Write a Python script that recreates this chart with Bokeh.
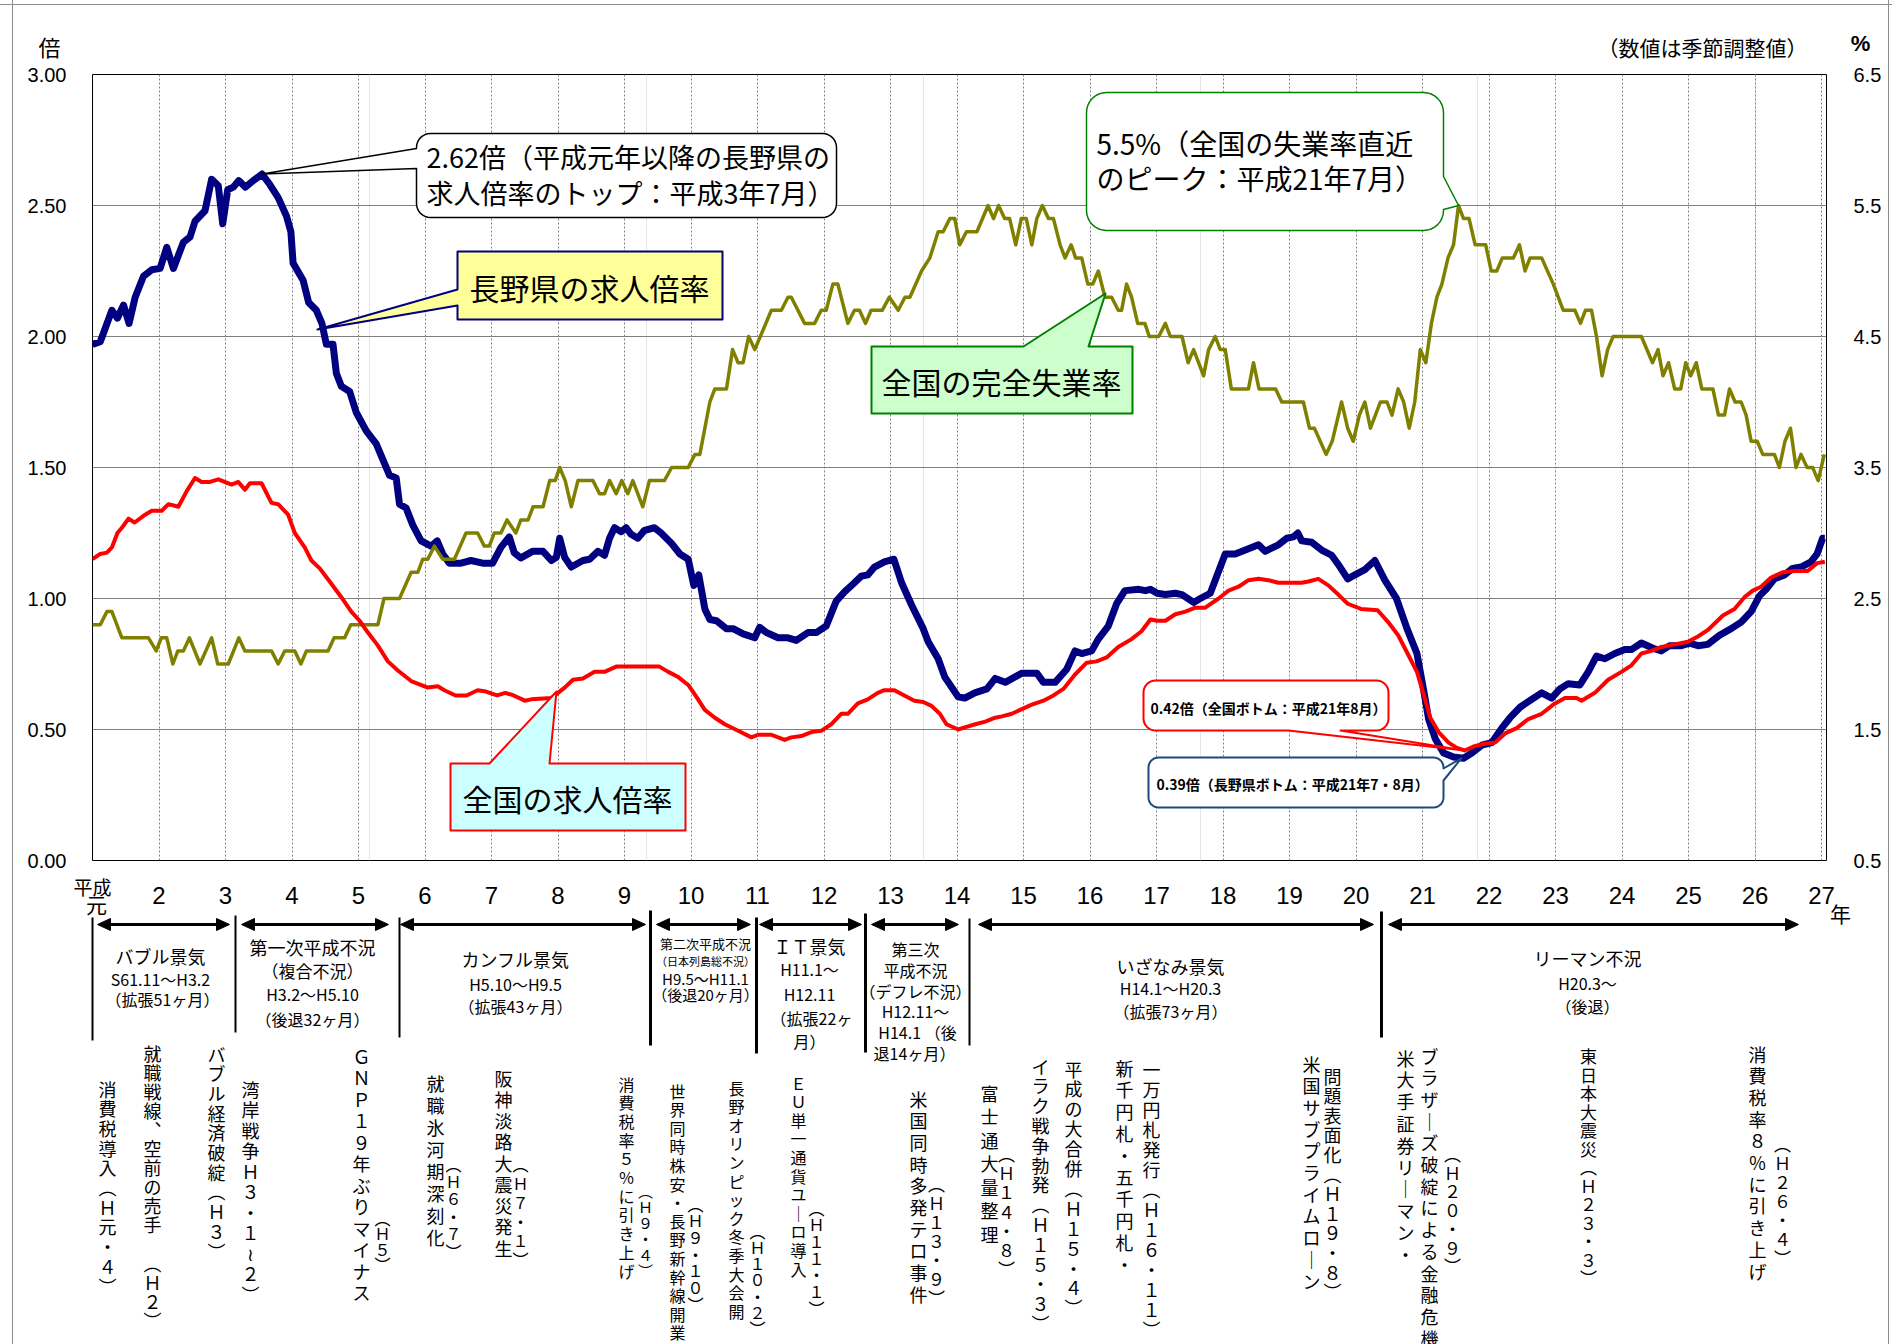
import math
from bokeh.plotting import figure
from bokeh.layouts import column
from bokeh.models import (Range1d, LinearAxis, FixedTicker, NumeralTickFormatter,
                          Grid, ColumnDataSource)
from bokeh.core.properties import value
from bokeh.embed import file_html
from bokeh.resources import INLINE

# ======================= DATA =======================
# month index: 0 = 平成元年1月
nagano_month = [
    0, 1.4, 3.5, 4.5, 5.6, 6.6, 7.7, 9.2, 10.7, 12.2,
    13.4, 14.6, 16.4, 17.6, 18.5, 20.3, 21.5, 22.7, 23.5, 24.4,
    25.4, 26.4, 27.6, 29.0, 30.6, 32.0, 33.5, 35.0, 35.8, 36.2,
    38.0, 39.0, 40.4, 41.4, 42.2, 43.4, 44.0, 44.9, 46.4, 47.6,
    49.4, 51.2, 52.4, 53.6, 54.8, 55.4, 56.6, 57.8, 59.3, 61.1,
    62.2, 63.2, 64.4, 66.5, 68.3, 70.4, 72.2, 73.7, 75.2, 76.1,
    77.3, 79.4, 81.3, 82.8, 83.7, 84.3, 85.2, 86.4, 88.5, 89.7,
    91.2, 92.4, 93.3, 94.2, 95.4, 96.3, 97.2, 98.4, 99.6, 101.4,
    102.6, 104.5, 106.0, 107.5, 108.5, 109.4, 110.5, 111.4, 112.6, 114.4,
    115.6, 117.4, 119.5, 120.4, 121.6, 123.7, 125.5, 127.0, 129.1, 130.6,
    132.4, 134.2, 135.7, 137.5, 138.7, 139.9, 141.1, 142.9, 144.6, 146.0,
    147.8, 149.9, 150.8, 152.6, 153.8, 156.2, 157.4, 159.2, 161.4, 162.9,
    164.7, 167.7, 170.4, 171.6, 173.7, 175.8, 177.3, 178.5, 180.3, 181.5,
    183.3, 184.8, 186.3, 188.8, 190.0, 190.9, 192.1, 193.6, 195.4, 196.6,
    198.7, 199.9, 201.7, 204.4, 206.2, 208.6, 210.4, 211.6, 214.0, 215.5,
    216.7, 217.5, 218.2, 220.0, 221.8, 223.6, 224.8, 226.5, 227.8, 229.6,
    231.4, 233.2, 235.3, 237.2, 239.0, 240.2, 241.1, 242.3, 243.8, 245.6,
    247.4, 248.9, 250.7, 252.5, 254.3, 255.8, 257.6, 259.7, 261.5, 263.3,
    264.8, 266.3, 268.4, 269.9, 271.4, 272.9, 274.7, 276.5, 277.7, 279.5,
    281.6, 283.1, 284.6, 286.7, 288.2, 289.7, 291.5, 293.6, 295.7, 297.5,
    299.3, 300.8, 302.0, 303.5, 305.3, 306.8, 308.3, 310.1, 311.2, 312.2,
    312.6]
nagano_ratio = [
    1.97, 1.98, 2.10, 2.07, 2.12, 2.05, 2.15, 2.23, 2.255, 2.26,
    2.34, 2.26, 2.36, 2.38, 2.44, 2.48, 2.60, 2.575, 2.43, 2.56,
    2.57, 2.595, 2.57, 2.595, 2.62, 2.58, 2.53, 2.46, 2.40, 2.28,
    2.215, 2.13, 2.10, 2.05, 1.97, 1.97, 1.86, 1.81, 1.79, 1.71,
    1.64, 1.59, 1.53, 1.47, 1.46, 1.36, 1.345, 1.28, 1.22, 1.20,
    1.22, 1.17, 1.135, 1.135, 1.145, 1.135, 1.135, 1.195, 1.235, 1.175,
    1.155, 1.18, 1.18, 1.145, 1.157, 1.23, 1.157, 1.12, 1.145, 1.15,
    1.18, 1.165, 1.23, 1.27, 1.255, 1.27, 1.245, 1.23, 1.26, 1.27,
    1.25, 1.21, 1.17, 1.15, 1.05, 1.09, 0.96, 0.92, 0.915, 0.885,
    0.885, 0.865, 0.85, 0.89, 0.87, 0.85, 0.85, 0.84, 0.87, 0.87,
    0.895, 0.99, 1.025, 1.06, 1.085, 1.09, 1.12, 1.14, 1.15, 1.06,
    0.975, 0.885, 0.835, 0.77, 0.70, 0.625, 0.62, 0.64, 0.655, 0.695,
    0.68, 0.715, 0.715, 0.68, 0.68, 0.73, 0.80, 0.79, 0.80, 0.845,
    0.895, 0.98, 1.03, 1.035, 1.03, 1.035, 1.02, 1.015, 1.02, 1.015,
    0.985, 1.00, 1.02, 1.17, 1.17, 1.19, 1.205, 1.18, 1.205, 1.23,
    1.235, 1.25, 1.22, 1.215, 1.185, 1.165, 1.13, 1.075, 1.09, 1.11,
    1.145, 1.07, 1.00, 0.885, 0.79, 0.65, 0.54, 0.465, 0.41, 0.395,
    0.39, 0.41, 0.44, 0.45, 0.505, 0.545, 0.585, 0.615, 0.64, 0.62,
    0.655, 0.675, 0.67, 0.72, 0.78, 0.77, 0.79, 0.805, 0.805, 0.83,
    0.81, 0.80, 0.82, 0.82, 0.83, 0.82, 0.825, 0.86, 0.885, 0.91,
    0.95, 1.01, 1.035, 1.075, 1.09, 1.115, 1.12, 1.14, 1.17, 1.23,
    1.23]

national_month = [
    0, 1.4, 2.6, 3.5, 4.5, 5.3, 6.5, 7.6, 9.5, 10.7,
    12.5, 13.7, 15.5, 17.0, 18.5, 19.7, 21.2, 22.7, 25.1, 26.3,
    27.5, 28.4, 30.5, 32.3, 33.5, 35.3, 36.5, 38.3, 39.5, 41.0,
    42.8, 44.9, 46.7, 48.2, 49.7, 51.5, 53.3, 55.1, 57.5, 60.5,
    62.3, 63.5, 65.5, 67.5, 69.5, 71.0, 73.0, 74.5, 76.0, 78.0,
    79.2, 82.8, 84.0, 85.2, 86.7, 88.5, 90.6, 92.4, 94.5, 96.0,
    102.3, 103.9, 105.7, 107.5, 108.8, 110.5, 112.3, 114.1, 116.5, 118.9,
    120.1, 122.5, 124.9, 126.1, 127.9, 129.7, 131.5, 133.3, 135.1, 136.3,
    138.1, 139.9, 141.7, 142.9, 144.7, 146.5, 148.3, 149.9, 151.4, 152.9,
    154.1, 156.2, 157.7, 159.3, 161.1, 162.9, 164.1, 165.9, 167.4, 169.5,
    171.6, 173.4, 175.2, 177.3, 179.4, 181.2, 183.0, 185.1, 187.5, 189.3,
    190.9, 192.1, 193.6, 195.4, 197.2, 199.0, 200.8, 203.2, 205.0, 206.8,
    208.6, 210.4, 212.2, 214.0, 218.2, 219.4, 221.2, 223.0, 224.8, 226.5,
    228.9, 231.9, 233.8, 235.6, 237.3, 239.0, 240.2, 241.4, 242.9, 244.7,
    246.2, 247.6, 249.2, 251.0, 253.1, 254.9, 257.0, 259.1, 261.5, 263.6,
    265.7, 267.8, 268.7, 271.1, 273.5, 275.9, 277.7, 279.5, 281.3, 283.1,
    285.5, 287.9, 289.7, 291.5, 294.2, 296.3, 298.1, 299.6, 301.1, 302.9,
    305.0, 307.1, 309.5, 311.2, 312.6]
national_ratio = [
    1.15, 1.17, 1.175, 1.195, 1.25, 1.27, 1.305, 1.29, 1.32, 1.335,
    1.335, 1.36, 1.35, 1.41, 1.46, 1.445, 1.445, 1.455, 1.435, 1.445,
    1.415, 1.44, 1.44, 1.365, 1.36, 1.32, 1.25, 1.195, 1.145, 1.115,
    1.065, 1.005, 0.95, 0.915, 0.87, 0.82, 0.76, 0.725, 0.685, 0.66,
    0.665, 0.65, 0.63, 0.63, 0.65, 0.645, 0.63, 0.64, 0.63, 0.61,
    0.615, 0.62, 0.64, 0.66, 0.69, 0.695, 0.72, 0.72, 0.74, 0.74,
    0.74, 0.72, 0.70, 0.67, 0.63, 0.575, 0.545, 0.52, 0.495, 0.47,
    0.48, 0.48, 0.46, 0.47, 0.475, 0.49, 0.495, 0.52, 0.56, 0.56,
    0.60, 0.615, 0.64, 0.65, 0.65, 0.63, 0.61, 0.605, 0.59, 0.56,
    0.52, 0.50, 0.51, 0.52, 0.53, 0.545, 0.55, 0.56, 0.575, 0.595,
    0.61, 0.63, 0.655, 0.71, 0.755, 0.76, 0.775, 0.815, 0.845, 0.875,
    0.92, 0.915, 0.915, 0.94, 0.95, 0.965, 0.965, 1.00, 1.03, 1.045,
    1.07, 1.075, 1.07, 1.06, 1.06, 1.065, 1.075, 1.05, 1.015, 0.98,
    0.96, 0.955, 0.91, 0.86, 0.79, 0.72, 0.635, 0.545, 0.49, 0.45,
    0.43, 0.42, 0.435, 0.445, 0.45, 0.485, 0.505, 0.54, 0.56, 0.595,
    0.62, 0.62, 0.61, 0.64, 0.69, 0.72, 0.745, 0.79, 0.80, 0.815,
    0.825, 0.835, 0.855, 0.88, 0.935, 0.96, 1.005, 1.03, 1.045, 1.08,
    1.10, 1.105, 1.105, 1.135, 1.14]

unemp_month = [
    0, 1.4, 2.6, 3.5, 5.3, 10.1, 11.5, 12.4, 13.4, 14.5,
    15.4, 16.4, 17.5, 19.4, 21.5, 22.6, 24.5, 26.4, 27.5, 32.3,
    33.5, 34.7, 36.5, 37.6, 38.6, 42.5, 43.6, 45.5, 46.6, 51.5,
    52.6, 55.4, 57.5, 58.7, 59.6, 60.5, 61.7, 63.2, 65.3, 67.4,
    69.5, 70.7, 71.6, 72.5, 73.7, 74.8, 76.4, 77.3, 78.6, 79.5,
    81.3, 82.5, 83.5, 84.3, 85.3, 86.4, 87.6, 90.3, 91.5, 92.4,
    93.3, 94.5, 95.5, 96.6, 97.5, 99.3, 100.5, 103.2, 104.5, 107.5,
    108.7, 109.6, 111.4, 112.3, 114.4, 115.5, 116.5, 117.4, 118.4, 119.5,
    122.5, 124.3, 125.5, 126.1, 128.5, 130.3, 131.5, 132.4, 133.6, 134.5,
    136.3, 137.5, 138.4, 139.5, 140.5, 142.5, 143.8, 145.4, 146.6, 147.5,
    149.6, 151.1, 152.6, 153.5, 154.7, 155.6, 156.5, 157.7, 159.6, 161.6,
    162.6, 163.5, 164.6, 165.5, 166.6, 167.6, 168.5, 169.5, 170.4, 171.4,
    172.5, 173.4, 174.6, 175.5, 176.6, 177.4, 178.5, 179.6, 180.5, 181.5,
    182.7, 183.9, 185.1, 185.7, 186.6, 187.5, 188.6, 189.9, 190.7, 192.4,
    193.6, 194.5, 196.6, 197.7, 198.7, 200.5, 201.4, 202.6, 203.5, 204.4,
    205.5, 208.6, 209.5, 210.5, 213.5, 214.6, 218.5, 219.6, 220.5, 222.6,
    223.7, 225.4, 226.5, 227.5, 228.6, 229.6, 230.6, 232.4, 233.6, 234.5,
    235.6, 236.6, 237.6, 238.6, 239.6, 240.6, 241.6, 242.6, 243.5, 244.6,
    245.6, 246.5, 247.4, 248.4, 249.5, 251.4, 252.4, 253.4, 254.4, 256.4,
    257.5, 258.5, 259.4, 261.5, 263.6, 265.4, 267.5, 268.5, 269.4, 270.5,
    271.4, 272.4, 273.4, 274.4, 279.5, 281.5, 282.5, 283.4, 284.4, 285.5,
    286.6, 287.5, 288.4, 289.4, 290.4, 292.4, 293.4, 294.5, 295.4, 296.4,
    297.5, 298.4, 299.3, 300.4, 301.4, 303.5, 304.4, 305.4, 306.4, 307.4,
    308.3, 309.4, 310.4, 311.4, 312.5]
unemp_rate = [
    2.3, 2.3, 2.4, 2.4, 2.2, 2.2, 2.1, 2.2, 2.2, 2.0,
    2.1, 2.1, 2.2, 2.0, 2.2, 2.0, 2.0, 2.2, 2.1, 2.1,
    2.0, 2.1, 2.1, 2.0, 2.1, 2.1, 2.2, 2.2, 2.3, 2.3,
    2.5, 2.5, 2.7, 2.7, 2.8, 2.8, 2.9, 2.8, 2.8, 3.0,
    3.0, 2.9, 2.9, 3.0, 3.0, 3.1, 3.0, 3.1, 3.1, 3.2,
    3.2, 3.4, 3.4, 3.5, 3.4, 3.2, 3.4, 3.4, 3.3, 3.3,
    3.4, 3.3, 3.4, 3.3, 3.4, 3.2, 3.4, 3.4, 3.5, 3.5,
    3.6, 3.6, 4.0, 4.1, 4.1, 4.4, 4.3, 4.3, 4.5, 4.4,
    4.7, 4.7, 4.8, 4.8, 4.6, 4.6, 4.7, 4.7, 4.9, 4.9,
    4.6, 4.7, 4.7, 4.6, 4.7, 4.7, 4.8, 4.7, 4.8, 4.8,
    5.0, 5.1, 5.3, 5.3, 5.4, 5.4, 5.2, 5.3, 5.3, 5.5,
    5.4, 5.5, 5.4, 5.4, 5.2, 5.4, 5.4, 5.2, 5.4, 5.5,
    5.4, 5.4, 5.2, 5.1, 5.2, 5.1, 5.1, 4.9, 4.9, 5.0,
    4.8, 4.8, 4.7, 4.7, 4.9, 4.8, 4.6, 4.6, 4.5, 4.5,
    4.6, 4.5, 4.5, 4.3, 4.4, 4.2, 4.4, 4.5, 4.4, 4.4,
    4.1, 4.1, 4.3, 4.1, 4.1, 4.0, 4.0, 3.8, 3.8, 3.6,
    3.7, 4.0, 3.8, 3.7, 3.9, 4.0, 3.8, 4.0, 4.0, 3.9,
    4.1, 4.0, 3.8, 4.0, 4.4, 4.3, 4.6, 4.8, 4.9, 5.1,
    5.2, 5.5, 5.4, 5.4, 5.2, 5.2, 5.0, 5.0, 5.1, 5.1,
    5.2, 5.0, 5.1, 5.1, 4.9, 4.7, 4.7, 4.6, 4.7, 4.7,
    4.5, 4.2, 4.4, 4.5, 4.5, 4.3, 4.4, 4.2, 4.3, 4.1,
    4.1, 4.3, 4.2, 4.3, 4.1, 4.1, 3.9, 3.9, 4.1, 4.0,
    4.0, 3.9, 3.7, 3.7, 3.6, 3.6, 3.5, 3.7, 3.8, 3.5,
    3.6, 3.5, 3.5, 3.4, 3.6]

assert len(nagano_month) == len(nagano_ratio)
assert len(national_month) == len(national_ratio)
assert len(unemp_month) == len(unemp_rate)

left_ticks = [0.0, 0.5, 1.0, 1.5, 2.0, 2.5, 3.0]
right_ticks = [0.5, 1.5, 2.5, 3.5, 4.5, 5.5, 6.5]
year_ticks = [12, 24, 36, 48, 60, 72, 84, 96, 108, 120, 132, 144, 156,
              168, 180, 192, 204, 216, 228, 240, 252, 264, 276, 288, 300, 312]
year_labels = ["2", "3", "4", "5", "6", "7", "8", "9", "10", "11", "12", "13", "14",
               "15", "16", "17", "18", "19", "20", "21", "22", "23", "24", "25", "26", "27"]

# peaks / bottoms quoted in the callouts
nagano_top = (30.6, 2.62)
unemp_peak = (246.5, 5.5)
national_bottom = (247.6, 0.42)
nagano_bottom = (247.0, 0.39)

period_texts = [
    ["バブル景気", "S61.11～H3.2", "（拡張51ヶ月）"],
    ["第一次平成不況", "（複合不況）", "H3.2～H5.10", "（後退32ヶ月）"],
    ["カンフル景気", "H5.10～H9.5", "（拡張43ヶ月）"],
    ["第二次平成不況", "（日本列島総不況）", "H9.5～H11.1", "（後退20ヶ月）"],
    ["ＩＴ景気", "H11.1～", "H12.11", "（拡張22ヶ", "月）"],
    ["第三次", "平成不況", "（デフレ不況）", "H12.11～", "H14.1 （後", "退14ヶ月）"],
    ["いざなみ景気", "H14.1～H20.3", "（拡張73ヶ月）"],
    ["リーマン不況", "H20.3～", "（後退）"],
]

event_texts = [
    "消費税導入︵Ｈ元・４︶", "就職戦線︑空前の売手　︵Ｈ２︶", "バブル経済破綻︵Ｈ３︶",
    "湾岸戦争Ｈ３・１≀２︶", "ＧＮＰ１９年ぶりマイナス", "︵Ｈ５︶",
    "就職氷河期深刻化", "︵Ｈ６・７︶", "阪神淡路大震災発生", "︵Ｈ７・１︶",
    "消費税率５％に引き上げ", "︵Ｈ９・４︶", "世界同時株安・長野新幹線開業", "︵Ｈ９・１０︶",
    "長野オリンピック冬季大会開", "︵Ｈ１０・２︶", "ＥＵ単一通貨ユ｜ロ導入", "︵Ｈ１１・１︶",
    "米国同時多発テロ事件", "︵Ｈ１３・９︶", "富士通大量整理", "︵Ｈ１４・８︶",
    "イラク戦争勃発︵Ｈ１５・３︶", "平成の大合併︵Ｈ１５・４︶", "新千円札・五千円札・",
    "一万円札発行︵Ｈ１６・１１︶", "米国サブプライムロ｜ン", "問題表面化︵Ｈ１９・８︶",
    "米大手証券リ｜マン・", "ブラザ｜ズ破綻による金融危機", "︵Ｈ２０・９︶",
    "東日本大震災︵Ｈ２３・３︶", "消費税率８％に引き上げ", "︵Ｈ２６・４︶",
]

# ======================= LAYOUT =======================
JP = "Noto Sans CJK JP"
NUM = "Liberation Sans"
W = 1892
OFF = 0                      # reference px = canvas px + OFF
FL, FR, FT, FB = 92, 1826, 74, 860   # plot frame in reference px
XMAX, YMAX = 312.9, 3.0
P0_TOP, P0_BOT = 0, 62
P2_TOP, P2_BOT = 871, 1344


def dx(fx):
    return (fx - FL) / (FR - FL) * XMAX


def dy(fy):
    return (FB - fy) / (FB - FT) * YMAX


def mpx(m):
    return FL + m * (FR - FL) / XMAX


def vpx(v):
    return FB - v * (FB - FT) / YMAX


def pctpx(pc):
    return vpx((pc - 0.5) / 2.0)


def no_align(f):
    try:
        f.frame_align = False
    except Exception:
        pass


def strip(top, bot):
    f = figure(width=W, height=bot - top, x_range=Range1d(OFF, OFF + W),
               y_range=Range1d(bot, top), x_axis_location=None, y_axis_location=None,
               min_border=0, toolbar_location=None, output_backend="svg", title=None)
    f.outline_line_color = None
    f.background_fill_alpha = 0
    f.border_fill_alpha = 0
    f.grid.visible = False
    no_align(f)
    return f


# ---------------- main chart ----------------
p = figure(width=W, height=P2_TOP - P0_BOT, x_range=Range1d(0, XMAX), y_range=Range1d(0, YMAX),
           x_axis_location=None, y_axis_location="left",
           min_border_left=FL - OFF, min_border_right=OFF + W - FR,
           min_border_top=FT - P0_BOT, min_border_bottom=P2_TOP - FB,
           toolbar_location=None, output_backend="svg", title=None)
no_align(p)
p.border_fill_alpha = 0
p.outline_line_color = "black"
p.outline_line_width = 1

p.yaxis.ticker = FixedTicker(ticks=left_ticks)
p.yaxis.formatter = NumeralTickFormatter(format="0.00")
p.yaxis.axis_line_color = None
p.yaxis.major_tick_line_color = None
p.yaxis.minor_tick_line_color = None
p.yaxis.major_label_standoff = 20
p.yaxis.major_label_text_font = NUM
p.yaxis.major_label_text_font_size = "20px"
p.yaxis.major_label_text_color = "black"
p.ygrid.grid_line_color = "#808080"
p.ygrid.grid_line_width = 1

p.extra_y_ranges = {"pct": Range1d(0.5, 6.5)}
rax = LinearAxis(y_range_name="pct", ticker=FixedTicker(ticks=right_ticks),
                 formatter=NumeralTickFormatter(format="0.0"))
rax.axis_line_color = None
rax.major_tick_line_color = None
rax.minor_tick_line_color = None
rax.major_label_standoff = 21
rax.major_label_text_font = NUM
rax.major_label_text_font_size = "20px"
rax.major_label_text_color = "black"
p.add_layout(rax, "right")

p.add_layout(Grid(dimension=0, ticker=FixedTicker(ticks=year_ticks),
                  grid_line_color="#808080", grid_line_dash="2 2", grid_line_width=1))

p.line(nagano_month, nagano_ratio, color="#000080", line_width=7, line_join="round")
p.line(unemp_month, unemp_rate, y_range_name="pct", color="#808000", line_width=3.5,
       line_join="round")
p.line(national_month, national_ratio, color="#FF0000", line_width=4, line_join="round")


def rr_points(x0, y0, x1, y1, r, side=None, a=None, b=None, tip=None, n=8):
    pts = []

    def arc(cx, cy, d0, d1):
        for i in range(n + 1):
            t = math.radians(d0 + (d1 - d0) * i / n)
            pts.append((cx + r * math.cos(t), cy + r * math.sin(t)))

    pts.append((x0 + r, y0))
    if side == "top":
        pts.extend([(a, y0), tip, (b, y0)])
    pts.append((x1 - r, y0))
    arc(x1 - r, y0 + r, -90, 0)
    if side == "right":
        pts.extend([(x1, a), tip, (x1, b)])
    pts.append((x1, y1 - r))
    arc(x1 - r, y1 - r, 0, 90)
    if side == "bottom":
        pts.extend([(b, y1), tip, (a, y1)])
    pts.append((x0 + r, y1))
    arc(x0 + r, y1 - r, 90, 180)
    if side == "left":
        pts.extend([(x0, b), tip, (x0, a)])
    pts.append((x0, y0 + r))
    arc(x0 + r, y0 + r, 180, 270)
    return pts


callouts = [
    dict(box=(416, 133, 836, 217), r=14, side="left", a=148, b=168,
         tip=(mpx(nagano_top[0]), vpx(nagano_top[1])), fill="white", line="black", lw=1.5),
    dict(box=(457, 251, 722, 319), r=0, side="left", a=289, b=305, tip=(317, 329),
         fill="#FFFF99", line="#000080", lw=2),
    dict(box=(871, 346, 1132, 413), r=0, side="top", a=1023, b=1088, tip=(1105, 293),
         fill="#CCFFCC", line="#008000", lw=2),
    dict(box=(1086, 92, 1443, 230), r=20, side="right", a=176, b=209,
         tip=(mpx(unemp_peak[0]), pctpx(unemp_peak[1])), fill="white", line="#008000", lw=1.5),
    dict(box=(450, 763, 685, 830), r=0, side="top", a=489, b=549, tip=(556, 691),
         fill="#CCFFFF", line="#FF0000", lw=2),
    dict(box=(1143, 680, 1388, 730), r=12, side="bottom", a=1288, b=1340,
         tip=(mpx(national_bottom[0]), vpx(national_bottom[1])), fill="white", line="#FF0000", lw=2),
    dict(box=(1148, 757, 1443, 807), r=10, side="right", a=768, b=780,
         tip=(mpx(nagano_bottom[0]), vpx(nagano_bottom[1])), fill="white", line="#1F497D", lw=2),
]
for c in callouts:
    x0, y0, x1, y1 = c["box"]
    pts = rr_points(x0, y0, x1, y1, c["r"], c["side"], c["a"], c["b"], c["tip"])
    p.patch([dx(q[0]) for q in pts], [dy(q[1]) for q in pts], fill_color=c["fill"],
            line_color=c["line"], line_width=c["lw"], line_join="round")

callout_texts = [
    (426, 156, "2.62倍（平成元年以降の長野県の", 27, "left", "normal"),
    (426, 192, "求人倍率のトップ：平成3年7月）", 27, "left", "normal"),
    (589, 286, "長野県の求人倍率", 30, "center", "normal"),
    (1001, 380, "全国の完全失業率", 30, "center", "normal"),
    (1096, 142, "5.5%（全国の失業率直近", 28, "left", "normal"),
    (1096, 177, "のピーク：平成21年7月）", 28, "left", "normal"),
    (567, 797, "全国の求人倍率", 30, "center", "normal"),
    (1150, 707, "0.42倍（全国ボトム：平成21年8月）", 14, "left", "bold"),
    (1156, 783, "0.39倍（長野県ボトム：平成21年7・8月）", 14, "left", "bold"),
]
for (fx, fy, s, fs, al, st) in callout_texts:
    p.text(x=[dx(fx)], y=[dy(fy)], text=[s], text_font=value(JP), text_font_size=f"{fs}px",
           text_align=al, text_baseline="middle", text_color="black", text_font_style=st)

# ---------------- top strip ----------------
p0 = strip(P0_TOP, P0_BOT)
p0.text(x=[49], y=[45], text=["倍"], text_font=value(JP), text_font_size="22px",
        text_align="center", text_baseline="middle", text_color="black")
p0.text(x=[1860], y=[43], text=["%"], text_font=value(NUM), text_font_size="22px",
        text_font_style="bold", text_align="center", text_baseline="middle", text_color="black")
p0.text(x=[1807], y=[46], text=["（数値は季節調整値）"], text_font=value(JP),
        text_font_size="21px", text_align="right", text_baseline="middle", text_color="black")

# ---------------- bottom strip ----------------
p2 = strip(P2_TOP, P2_BOT)
p2.text(x=[mpx(t) for t in year_ticks], y=[895] * len(year_ticks), text=year_labels,
        text_font=value(NUM), text_font_size="24px", text_align="center",
        text_baseline="middle", text_color="black")
p2.text(x=[92], y=[886], text=["平成"], text_font=value(JP),
        text_font_size="19px", text_align="center", text_baseline="middle", text_color="black")
p2.text(x=[96, 1840], y=[903, 912], text=["元", "年"], text_font=value(JP),
        text_font_size="21px", text_align="center", text_baseline="middle", text_color="black")

sep_x = [92, 235, 399, 650, 756, 865, 969, 1381]
sep_top = [917, 915, 917, 910, 917, 913, 918, 911]
sep_bot = [1040, 1032, 1037, 1045, 1053, 1052, 1045, 1037]
sep_w = [2, 2, 2, 3, 3, 3, 2, 3]
p2.segment(x0=sep_x, y0=sep_top, x1=sep_x, y1=sep_bot, line_width=sep_w, color="black")

arrows = [(97, 229), (241, 388), (400, 645), (656, 750), (759, 861), (871, 958),
          (978, 1373), (1388, 1798)]
AY = 924
HL, HW = 13, 6
p2.segment(x0=[a + 6 for a, b in arrows], y0=[AY] * len(arrows),
           x1=[b - 6 for a, b in arrows], y1=[AY] * len(arrows), line_width=3, color="black")
hx, hy = [], []
for a, b in arrows:
    hx.append([a, a + HL, a + HL]); hy.append([AY, AY - HW, AY + HW])
    hx.append([b, b - HL, b - HL]); hy.append([AY, AY - HW, AY + HW])
p2.patches(hx, hy, color="black")

period_layout = [
    [(160, 955, 18), (160, 978, 16), (162, 998, 16)],
    [(312, 946, 18), (312, 970, 17), (312, 993, 16), (312, 1018, 16)],
    [(515, 958, 18), (515, 983, 16), (515, 1005, 16)],
    [(705, 943, 13), (705, 960, 11), (705, 978, 15), (705, 994, 15)],
    [(809, 945, 18), (809, 968, 16), (809, 993, 16), (811, 1017, 16), (809, 1040, 16)],
    [(915, 948, 16), (915, 969, 16), (915, 990, 16), (915, 1010, 16), (917, 1031, 16),
     (914, 1052, 16)],
    [(1170, 965, 18), (1170, 987, 16), (1170, 1010, 16)],
    [(1587, 957, 18), (1587, 982, 16), (1587, 1005, 16)],
]
tx, ty, tt, tf = [], [], [], []
for lines, lay in zip(period_texts, period_layout):
    for s, (fx, fy, fs) in zip(lines, lay):
        tx.append(fx); ty.append(fy); tt.append(s); tf.append(f"{fs}px")
p2.text(x="x", y="y", text="t", text_font_size="fs",
        source=ColumnDataSource(dict(x=tx, y=ty, t=tt, fs=tf)),
        text_font=value(JP), text_align="center", text_baseline="middle", text_color="black")

# vertical (tategaki) event columns: x, first-char y, pitch, font size
event_layout = [
    (107, 1088, 19.7, 18), (152, 1052, 19.1, 18), (216, 1053, 19.7, 18),
    (250, 1088, 20.5, 18), (361, 1055, 21.5, 18), (382, 1217, 15.5, 16),
    (435, 1082, 22.1, 18), (453, 1163, 17.4, 16), (503, 1077, 21.25, 18), (520, 1163, 19, 16),
    (626, 1083, 18.7, 16), (645, 1190, 16, 15), (677, 1090, 18.6, 16), (695, 1203, 16.7, 16),
    (736, 1087, 18.6, 16), (757, 1230, 16.3, 16), (798, 1082, 18.6, 16), (816, 1207, 16.7, 16),
    (918, 1098, 21.7, 18), (936, 1183, 19, 17), (989, 1092, 23.5, 18), (1006, 1153, 19.2, 17),
    (1040, 1065, 19.8, 18), (1073, 1068, 19.9, 18), (1124, 1067, 21.8, 18),
    (1151, 1068, 20, 18), (1311, 1063, 21.7, 18), (1332, 1075, 19.6, 18),
    (1405, 1057, 21.8, 18), (1429, 1055, 21.7, 18), (1452, 1153, 18.7, 17),
    (1588, 1055, 18.5, 17), (1757, 1053, 21.7, 18), (1782, 1143, 19, 17),
]
ex, ey, et, ef = [], [], [], []
for s, (fx, fy, pitch, fs) in zip(event_texts, event_layout):
    for i, ch in enumerate(s):
        ex.append(fx); ey.append(fy + i * pitch); et.append(ch); ef.append(f"{fs}px")
p2.text(x="x", y="y", text="t", text_font_size="fs",
        source=ColumnDataSource(dict(x=ex, y=ey, t=et, fs=ef)),
        text_font=value(JP), text_align="center", text_baseline="middle", text_color="black")

frame_css = ("linear-gradient(to right, transparent 12px, #8c8c8c 12px, #8c8c8c 13px, "
             "transparent 13px, transparent 1888px, #8c8c8c 1888px, #8c8c8c 1889px, "
             "transparent 1889px), linear-gradient(to bottom, transparent 4px, #8c8c8c 4px, "
             "#8c8c8c 5px, transparent 5px)")
layout = column(p0, p, p2, styles={"background": frame_css})

open("out.html", "w").write(file_html(layout, INLINE))
